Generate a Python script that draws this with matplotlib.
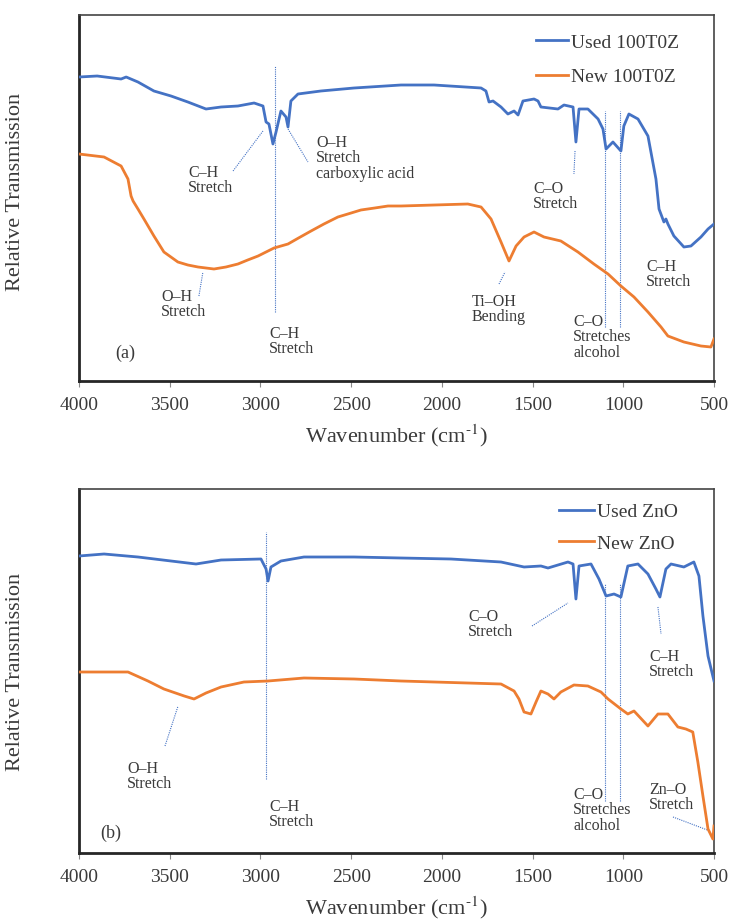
import matplotlib
matplotlib.use("Agg")
import matplotlib.pyplot as plt

plt.rcParams["font.family"] = ["Liberation Serif", "DejaVu Serif"]
plt.rcParams["mathtext.fontset"] = "stix"

BLUE = "#4472C4"
ORANGE = "#ED7D31"
TXT = "#3a3a3a"

# ---- panel (a): 100T0Z, arbitrary transmission units ----
wn_a_used = [4000, 3900, 3768, 3740, 3675, 3587, 3493, 3400, 3300, 3217, 3124, 3035, 2986, 2969,
             2953, 2931, 2914, 2887, 2859, 2848, 2832, 2793, 2667, 2484, 2225, 2043, 1784, 1757,
             1740, 1718, 1674, 1636, 1602, 1580, 1553, 1492, 1470, 1454, 1360, 1327, 1277, 1261,
             1244, 1195, 1139, 1112, 1095, 1057, 1013, 997, 969, 919, 864, 820, 803, 776, 765,
             754, 721, 666, 627, 572, 533, 500]
t_a_used = [304, 305, 302, 304, 299, 290, 285, 279, 272, 274, 275, 278, 275, 259,
            257, 237, 249, 270, 264, 254, 280, 287, 290, 293, 296, 296, 293, 290,
            279, 280, 274, 267, 270, 266, 280, 282, 280, 274, 272, 276, 274, 239,
            272, 272, 262, 252, 232, 239, 230, 255, 267, 262, 245, 202, 172, 159, 162,
            157, 145, 134, 135, 144, 152, 157]

wn_a_new = [4000, 3862, 3768, 3730, 3713, 3702, 3675, 3642, 3587, 3532, 3455, 3400, 3344, 3256,
            3190, 3124, 3070, 3013, 2925, 2848, 2790, 2721, 2650, 2573, 2500, 2446, 2370, 2297,
            2225, 1857, 1784, 1729, 1674, 1630, 1591, 1547, 1492, 1437, 1344, 1250, 1162, 1084,
            1013, 941, 864, 792, 754, 666, 572, 517, 500]
t_a_new = [227, 224, 215, 202, 185, 180, 172, 162, 145, 129, 119, 116, 114, 112,
           114, 117, 121, 125, 133, 137, 143, 150, 157, 164, 168, 171, 173, 175,
           175, 177, 174, 162, 139, 120, 135, 144, 149, 144, 140, 129, 117, 107,
           95, 84, 69, 54, 45, 39, 35, 34, 42]

# ---- panel (b): ZnO ----
wn_b_used = [4000, 3862, 3675, 3493, 3355, 3217, 2997, 2969, 2958, 2942, 2887, 2760, 2484, 2225,
             1950, 1674, 1547, 1454, 1415, 1305, 1277, 1261, 1244, 1178, 1134, 1095, 1051, 1013,
             975, 919, 864, 820, 798, 765, 737, 666, 611, 583, 561, 533, 500]
t_b_used = [297, 299, 296, 292, 289, 293, 294, 284, 272, 286, 292, 296, 296, 295,
            294, 291, 286, 287, 285, 291, 289, 254, 287, 289, 274, 257, 259, 256,
            287, 289, 279, 264, 256, 284, 289, 286, 291, 277, 237, 197, 172]

wn_b_new = [4000, 3862, 3730, 3620, 3532, 3420, 3366, 3300, 3217, 3091, 2958, 2760, 2484, 2225,
            1674, 1602, 1575, 1547, 1509, 1481, 1454, 1415, 1382, 1344, 1272, 1195, 1123, 1084,
            1013, 975, 941, 864, 809, 754, 699, 655, 617, 589, 561, 533, 506, 500]
t_b_new = [181, 181, 181, 172, 164, 157, 154, 160, 166, 171, 172, 175, 174, 172,
           169, 162, 154, 141, 139, 151, 162, 159, 154, 161, 168, 167, 161, 154,
           144, 139, 142, 127, 139, 139, 126, 124, 121, 91, 57, 24, 14, 27]

# vertical guide lines: (wavenumber, y_from, y_to)
guides_a = [(2920, 69, 315), (1101, 54, 270), (1018, 54, 270)]
guides_b = [(2969, 74, 321), (1101, 52, 269), (1018, 52, 269)]

# labels: (text, wavenumber, y top)
labels_a = [("C–H\nStretch", 3399, 217), ("O–H\nStretch\ncarboxylic acid", 2694, 247),
            ("C–O\nStretch", 1498, 201), ("C–H\nStretch", 875, 123),
            ("Ti–OH\nBending", 1834, 88), ("C–O\nStretches\nalcohol", 1277, 68),
            ("O–H\nStretch", 3548, 93), ("C–H\nStretch", 2953, 56)]
labels_b = [("O–H\nStretch", 3735, 93), ("C–H\nStretch", 2953, 55),
            ("C–O\nStretch", 1856, 245), ("C–H\nStretch", 858, 205),
            ("C–O\nStretches\nalcohol", 1277, 67), ("Zn–O\nStretch", 858, 72)]

# leader lines: (wn1, y1, wn2, y2)
leaders_a = [(3151, 210, 2986, 250), (2848, 252, 2738, 219), (1266, 230, 1272, 207),
             (1685, 97, 1652, 109), (3339, 85, 3317, 109)]
leaders_b = [(3526, 107, 3454, 147), (1503, 227, 1305, 250), (809, 246, 792, 219),
             (726, 36, 522, 22)]

xticks = [4000, 3500, 3000, 2500, 2000, 1500, 1000, 500]

fig = plt.figure(figsize=(7.32, 9.2), dpi=100)
ax_a = fig.add_axes([79/732, 1-382/920, 635/732, 366/920])
ax_b = fig.add_axes([79/732, 1-854/920, 635/732, 364/920])

panels = [
    (ax_a, wn_a_used, t_a_used, wn_a_new, t_a_new, "Used 100T0Z", "New 100T0Z",
     guides_a, labels_a, leaders_a, "(a)", 366, 29, (0.945, 0.949), 0.85, 1.65),
    (ax_b, wn_b_used, t_b_used, wn_b_new, t_b_new, "Used ZnO", "New ZnO",
     guides_b, labels_b, leaders_b, "(b)", 364, 21, (0.943, 0.962), 0.70, 1.8),
]

for (ax, wu, tu, wnw, tn, lu, ln, guides, labels, leaders, tag, ymax, tag_y,
     anchor, lsp, hlen) in panels:
    ax.plot(wu, tu, color=BLUE, lw=2.0, label=lu, zorder=3)
    ax.plot(wnw, tn, color=ORANGE, lw=2.0, label=ln, zorder=3)
    for w, y0, y1 in guides:
        ax.plot([w, w], [y0, y1], color=BLUE, lw=0.8, ls=(0, (1, 1)), zorder=2)
    for w1, y1, w2, y2 in leaders:
        ax.plot([w1, w2], [y1, y2], color=BLUE, lw=0.8, ls=(0, (1, 1)), zorder=2)
    for txt, w, y in labels:
        ax.text(w, y, txt, ha="left", va="top", fontsize=11.5, color=TXT, linespacing=0.95)
    ax.text(3802 if tag == "(a)" else 3884, tag_y, tag, ha="left", va="center",
            fontsize=13, color=TXT)
    ax.set_xlim(4000, 500)
    ax.set_ylim(0, ymax)
    ax.set_xticks(xticks)
    ax.set_yticks([])
    ax.tick_params(axis="x", direction="out", length=4, width=0.8, color="#888888",
                   labelsize=14, pad=7, labelcolor=TXT)
    for side in ("left", "bottom"):
        ax.spines[side].set_linewidth(2.0)
        ax.spines[side].set_color("#262626")
    for side in ("top", "right"):
        ax.spines[side].set_linewidth(1.2)
        ax.spines[side].set_color("#444444")
    ax.set_xlabel(r"Wavenumber (cm$^{\text{-}1}$)", fontsize=16, color=TXT, labelpad=6)
    ax.set_ylabel("Relative Transmission", fontsize=16, color=TXT)
    ax.yaxis.set_label_coords(-0.085, 0.52 if tag == "(a)" else 0.5)
    leg = ax.legend(loc="upper right", bbox_to_anchor=anchor, frameon=False, fontsize=14,
                    handlelength=hlen, handletextpad=0.15, labelspacing=lsp,
                    borderaxespad=0, borderpad=0)
    for t in leg.get_texts():
        t.set_color(TXT)

fig.savefig("out.png", dpi=100)
